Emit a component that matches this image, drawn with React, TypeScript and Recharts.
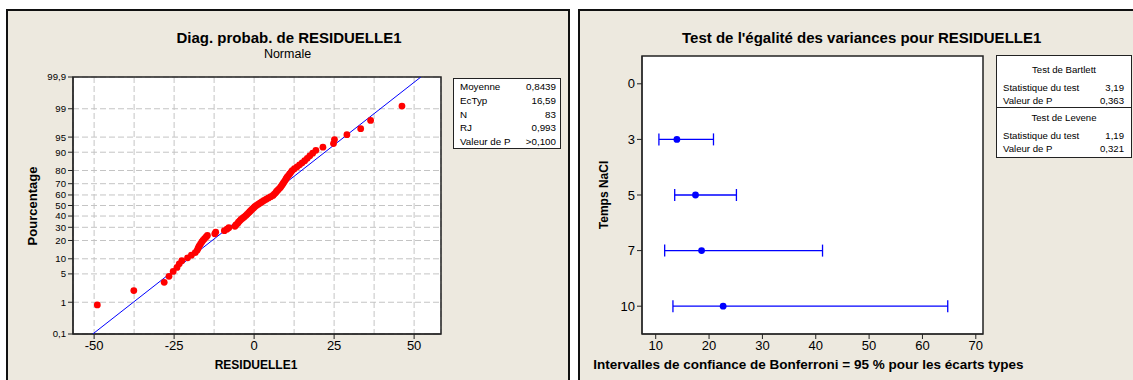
import React from 'react';
import { ScatterChart, Scatter, XAxis, YAxis, CartesianGrid, ReferenceArea, ErrorBar } from 'recharts';

// ---------- Left panel: normal probability plot ----------
const residuals = [
  -49.0, -37.6, -28.1, -26.6, -25.3, -24.1, -23.4, -22.6, -20.8, -19.6,
  -18.4, -17.8, -17.5, -17.2, -16.8, -16.4, -16.0, -15.5, -15.0, -14.6,
  -12.3, -12.0, -9.3, -8.5, -7.9, -6.0, -5.7, -5.2, -4.9, -4.5,
  -4.1, -3.6, -3.1, -2.6, -2.2, -1.8, -1.4, -1.0, -0.6, -0.2,
  0.2, 0.7, 1.3, 1.9, 2.5, 3.1, 3.8, 4.5, 5.2, 5.9,
  6.3, 6.7, 7.0, 7.4, 7.8, 8.2, 8.5, 8.8, 9.1, 9.4,
  9.7, 10.0, 10.3, 10.7, 11.1, 11.5, 11.9, 12.6, 13.4, 14.2,
  15.0, 15.8, 16.6, 17.4, 18.3, 19.3, 21.5, 24.8, 25.1, 29.0,
  33.3, 36.4, 46.2,
];
const percentTicks = [0.1, 1, 5, 10, 20, 30, 40, 50, 60, 70, 80, 90, 95, 99, 99.9];
const percentLabels = ['0,1', '1', '5', '10', '20', '30', '40', '50', '60', '70', '80', '90', '95', '99', '99,9'];
const residualTicks = [-50, -25, 0, 25, 50];
const residualGrid = [-50, -37.5, -25, -12.5, 0, 12.5, 25, 37.5, 50];
const residualDomain = [-56.6, 58.4];
const fitMean = 0.8439;
const fitStDev = 16.59;
const statLabels = ['Moyenne', 'EcTyp', 'N', 'RJ', 'Valeur de P'];
const statValues = ['0,8439', '16,59', '83', '0,993', '>0,100'];

// ---------- Right panel: Bonferroni intervals ----------
const naclTimes = ['0', '3', '5', '7', '10'];
const sdEstimate = [null, 13.97, 17.46, 18.6, 22.64];
const sdLower = [null, 10.6, 13.56, 11.68, 13.23];
const sdUpper = [null, 20.83, 25.13, 41.27, 64.74];
const sdTicks = [10, 20, 30, 40, 50, 60, 70];
const sdDomain = [7.43, 71.35];
const bartlettRows = [['Statistique du test', '3,19'], ['Valeur de P', '0,363']];
const leveneRows = [['Statistique du test', '1,19'], ['Valeur de P', '0,321']];

// inverse standard normal CDF (Acklam)
function invNorm(p: number): number {
  const a = [-3.969683028665376e1, 2.209460984245205e2, -2.759285104469687e2, 1.38357751867269e2, -3.066479806614716e1, 2.506628277459239];
  const b = [-5.447609879822406e1, 1.615858368580409e2, -1.556989798598866e2, 6.680131188771972e1, -1.328068155288572e1];
  const c = [-7.784894002430293e-3, -3.223964580411365e-1, -2.400758277161838, -2.5496710102297, 4.374664141464968, 2.938163982698783];
  const d = [7.784695709041462e-3, 3.224671290700398e-1, 2.445134137142996, 3.754408661907416];
  const pl = 0.02425;
  if (p < pl) {
    const q = Math.sqrt(-2 * Math.log(p));
    return (((((c[0] * q + c[1]) * q + c[2]) * q + c[3]) * q + c[4]) * q + c[5]) / ((((d[0] * q + d[1]) * q + d[2]) * q + d[3]) * q + 1);
  }
  if (p > 1 - pl) {
    const q = Math.sqrt(-2 * Math.log(1 - p));
    return -(((((c[0] * q + c[1]) * q + c[2]) * q + c[3]) * q + c[4]) * q + c[5]) / ((((d[0] * q + d[1]) * q + d[2]) * q + d[3]) * q + 1);
  }
  const q = p - 0.5;
  const r = q * q;
  return (((((a[0] * r + a[1]) * r + a[2]) * r + a[3]) * r + a[4]) * r + a[5]) * q / (((((b[0] * r + b[1]) * r + b[2]) * r + b[3]) * r + b[4]) * r + 1);
}

const n = residuals.length;
const probData = residuals.map((x, i) => ({ x, z: invNorm((i + 1 - 0.3) / (n + 0.4)) }));
const zTicks = percentTicks.map((p) => invNorm(p / 100));
const zMin = zTicks[0];
const zMax = zTicks[zTicks.length - 1];
const fitLine = [
  { x: fitMean + fitStDev * zMin, z: zMin },
  { x: fitMean + fitStDev * zMax, z: zMax },
];
const zLabel = (v: number) => {
  let best = 0;
  zTicks.forEach((t, i) => { if (Math.abs(t - v) < Math.abs(zTicks[best] - v)) best = i; });
  return percentLabels[best];
};

const ciData = naclTimes
  .map((t, i) => (sdEstimate[i] == null ? null : {
    x: sdEstimate[i] as number,
    y: i,
    err: [(sdEstimate[i] as number) - (sdLower[i] as number), (sdUpper[i] as number) - (sdEstimate[i] as number)],
  }))
  .filter(Boolean) as { x: number; y: number; err: number[] }[];

const FONT = '"Liberation Sans", Arial, sans-serif';
const BEIGE = '#EDE9DF';

const T = ({ x, y, children, size, bold, rotate, anchor }: any) => (
  <div
    style={{
      position: 'absolute', left: x, top: y, whiteSpace: 'nowrap', lineHeight: 1,
      fontSize: size, fontWeight: bold ? 700 : 400, color: '#000', fontFamily: FONT,
      transform: `translate(${anchor === 'start' ? '0' : '-50%'}, -50%)${rotate ? ` rotate(${rotate}deg)` : ''}`,
    }}
  >
    {children}
  </div>
);

const RedDot = (p: any) => <circle cx={p.cx} cy={p.cy} r={3.4} fill="#FF0000" />;
const BlueDot = (p: any) => <circle cx={p.cx} cy={p.cy} r={3.4} fill="#0000FF" />;
const NoDot = () => <g />;

export default function App() {
  const tickStyle = { fontSize: 13, fill: '#000', fontFamily: FONT };
  return (
    <div style={{ position: 'absolute', left: 0, top: 0, width: 1133, height: 380, background: '#fff', overflow: 'hidden', fontFamily: FONT }}>
      {/* panels */}
      <div style={{ position: 'absolute', left: 6, top: 9, width: 564, height: 400, background: BEIGE, border: '2px solid #111', boxSizing: 'border-box' }} />
      <div style={{ position: 'absolute', left: 578, top: 9, width: 580, height: 400, background: BEIGE, border: '2px solid #111', boxSizing: 'border-box' }} />

      {/* left chart */}
      <div style={{ position: 'absolute', left: 0, top: 0 }}>
        <ScatterChart width={572} height={380} margin={{ top: 77, right: 131, bottom: 16, left: 0 }}>
          <XAxis xAxisId="grid" type="number" dataKey="x" domain={residualDomain} ticks={residualGrid} hide allowDataOverflow />
          <CartesianGrid xAxisId="grid" stroke="#c4c4c4" strokeDasharray="6 3" fill="#fff" fillOpacity={1} />
          <XAxis type="number" dataKey="x" domain={residualDomain} ticks={residualTicks} interval={0} allowDataOverflow
            height={30} tickSize={5} tick={tickStyle} axisLine={{ stroke: '#222' }} tickLine={{ stroke: '#222' }} />
          <YAxis type="number" dataKey="z" domain={[zMin, zMax]} ticks={zTicks} interval={0} allowDataOverflow
            width={73} tickSize={5} tickFormatter={zLabel} tick={{ fontSize: 9.6, fill: '#000', fontFamily: FONT }}
            axisLine={{ stroke: '#222' }} tickLine={{ stroke: '#222' }} />
          <Scatter data={fitLine} line={{ stroke: '#0000FF', strokeWidth: 1 }} shape={NoDot} isAnimationActive={false} />
          <Scatter data={probData} shape={RedDot} isAnimationActive={false} />
          <ReferenceArea x1={residualDomain[0]} x2={residualDomain[1]} y1={zMin} y2={zMax} fill="none" stroke="#222" strokeWidth={1.5} ifOverflow="visible" />
        </ScatterChart>
      </div>

      {/* right chart */}
      <div style={{ position: 'absolute', left: 572, top: 0 }}>
        <ScatterChart width={561} height={380} margin={{ top: 56, right: 150, bottom: 16, left: 0 }}>
          <CartesianGrid horizontal={false} vertical={false} fill="#fff" fillOpacity={1} />
          <XAxis type="number" dataKey="x" domain={sdDomain} ticks={sdTicks} interval={0} allowDataOverflow
            height={30} tickSize={5} tick={tickStyle} axisLine={{ stroke: '#222' }} tickLine={{ stroke: '#222' }} />
          <YAxis type="number" dataKey="y" domain={[-0.5, naclTimes.length - 0.5]} reversed
            ticks={naclTimes.map((_, i) => i)} interval={0} tickFormatter={(v: number) => naclTimes[v]}
            width={70} tickSize={5} tick={tickStyle} axisLine={{ stroke: '#222' }} tickLine={{ stroke: '#222' }} />
          <Scatter data={ciData} shape={BlueDot} isAnimationActive={false}>
            <ErrorBar dataKey="err" direction="x" width={6} stroke="#0000FF" strokeWidth={1.3} isAnimationActive={false} />
          </Scatter>
          <ReferenceArea x1={sdDomain[0]} x2={sdDomain[1]} y1={-0.5} y2={naclTimes.length - 0.5} fill="none" stroke="#222" strokeWidth={1.5} ifOverflow="visible" />
        </ScatterChart>
      </div>

      {/* left texts */}
      <T x={289} y={37} size={15} bold>Diag. probab. de RESIDUELLE1</T>
      <T x={287.5} y={53.5} size={12.5}>Normale</T>
      <T x={256} y={364.5} size={12} bold>RESIDUELLE1</T>
      <T x={31.6} y={205.7} size={13} bold rotate={-90}>Pourcentage</T>

      {/* left stats box */}
      <div style={{ position: 'absolute', left: 453, top: 78, width: 108, height: 71, background: '#fff', border: '1.5px solid #222', boxSizing: 'border-box' }}>
        {statLabels.map((l, i) => (
          <div key={l} style={{ position: 'absolute', left: 6, right: 4, top: 1 + i * 13.8, height: 14, lineHeight: '14px', fontSize: 9.8, display: 'flex', justifyContent: 'space-between' }}>
            <span>{l}</span><span>{statValues[i]}</span>
          </div>
        ))}
      </div>

      {/* right texts */}
      <T x={861.7} y={37} size={15} bold>Test de l'égalité des variances pour RESIDUELLE1</T>
      <T x={604} y={195} size={12} bold rotate={-90}>Temps NaCl</T>
      <T x={593.3} y={364.5} size={13.5} bold anchor="start">Intervalles de confiance de Bonferroni = 95 % pour les écarts types</T>

      {/* right stats box */}
      <div style={{ position: 'absolute', left: 996, top: 55, width: 136, height: 103, background: '#fff', border: '1.5px solid #222', boxSizing: 'border-box' }}>
        <div style={{ position: 'absolute', left: 0, right: 0, top: 8, textAlign: 'center', fontSize: 9.6, lineHeight: '12px' }}>Test de Bartlett</div>
        {bartlettRows.map((r, i) => (
          <div key={'b' + i} style={{ position: 'absolute', left: 6, right: 7, top: 26 + i * 12.7, lineHeight: '12px', fontSize: 9.6, display: 'flex', justifyContent: 'space-between' }}>
            <span>{r[0]}</span><span>{r[1]}</span>
          </div>
        ))}
        <div style={{ position: 'absolute', left: 0, right: 0, top: 51, borderTop: '1.5px solid #222' }} />
        <div style={{ position: 'absolute', left: 0, right: 0, top: 56, textAlign: 'center', fontSize: 9.6, lineHeight: '12px' }}>Test de Levene</div>
        {leveneRows.map((r, i) => (
          <div key={'l' + i} style={{ position: 'absolute', left: 6, right: 7, top: 74 + i * 13.3, lineHeight: '12px', fontSize: 9.6, display: 'flex', justifyContent: 'space-between' }}>
            <span>{r[0]}</span><span>{r[1]}</span>
          </div>
        ))}
      </div>
    </div>
  );
}
